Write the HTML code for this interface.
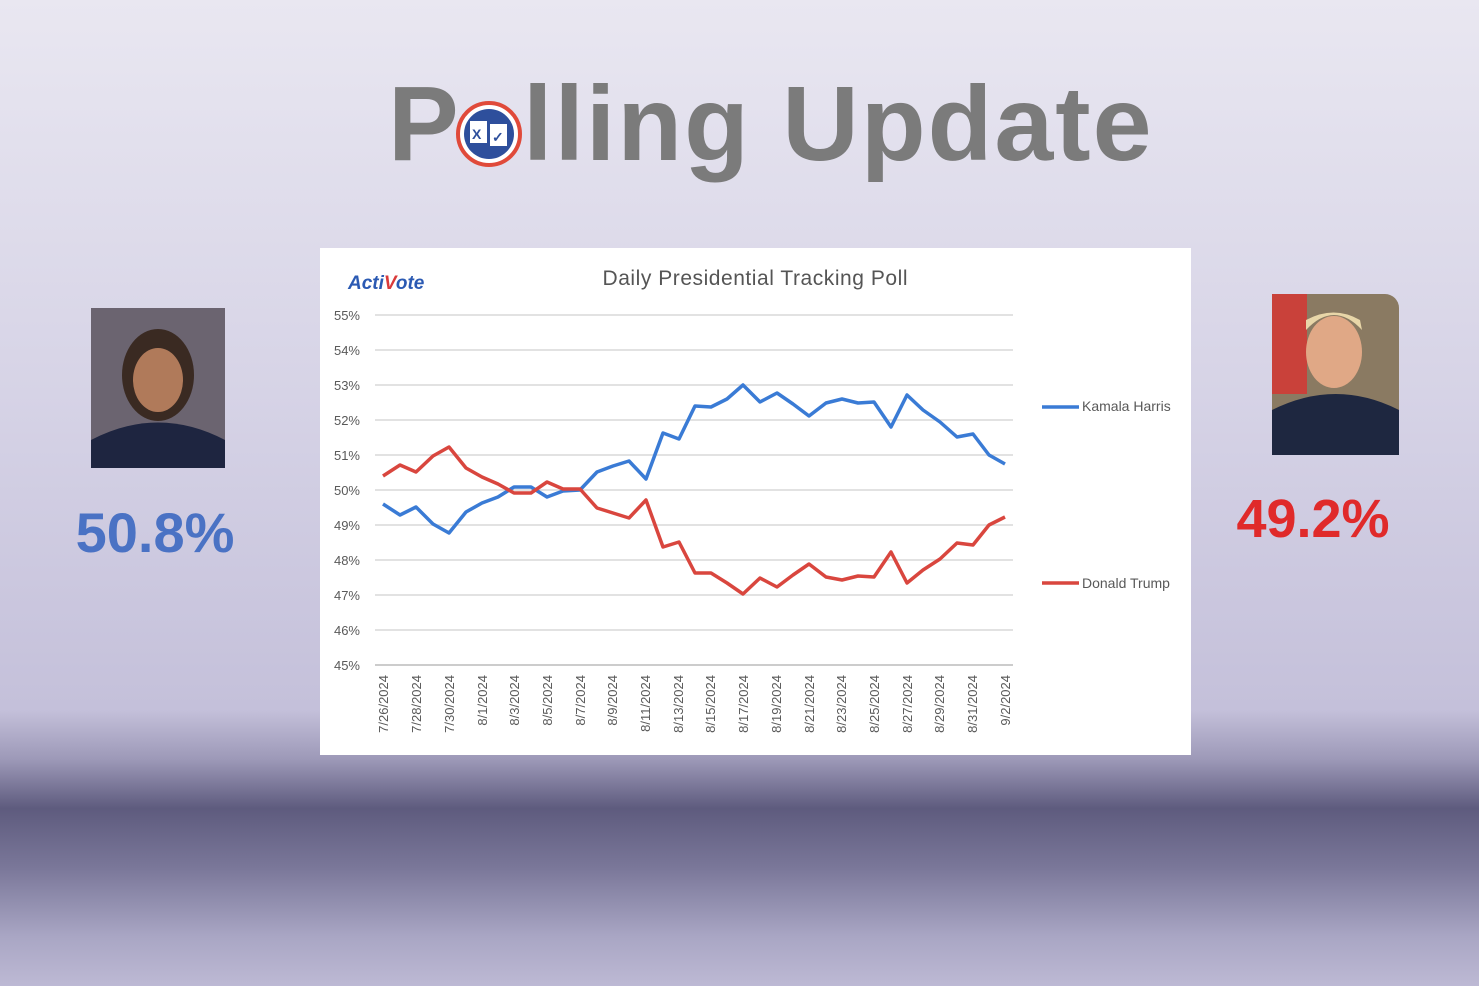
<!DOCTYPE html>
<html><head><meta charset="utf-8"><style>
html,body{margin:0;padding:0;}
body{width:1479px;height:986px;overflow:hidden;font-family:"Liberation Sans",sans-serif;
background:linear-gradient(to bottom,#e9e7f1 0%,#d6d3e6 40%,#c4c0da 72%,#9d99b8 77%,#5e5b7e 82%,#7a7799 88%,#a9a6c4 95%,#bdb9d4 100%);}
</style></head><body>
<svg width="1479" height="986" xmlns="http://www.w3.org/2000/svg" style="position:absolute;left:0;top:0">
<text x="388" y="160" font-family="Liberation Sans, sans-serif" font-weight="bold" font-size="106" fill="#7b7b7b">P</text>
<circle cx="489" cy="134" r="31" fill="#fff" stroke="#e04a3a" stroke-width="4"/>
<circle cx="489" cy="134" r="25" fill="#2e4f9c"/>
<rect x="470" y="121" width="17" height="22" fill="#fff"/><rect x="490" y="124" width="17" height="22" fill="#fff"/>
<text x="472" y="139" font-size="14" fill="#2e4f9c" font-weight="bold">X</text>
<text x="492" y="142" font-size="14" fill="#2e4f9c" font-weight="bold">✓</text>
<text x="523" y="160" font-family="Liberation Sans, sans-serif" font-weight="bold" font-size="106" fill="#7b7b7b" letter-spacing="2">lling Update</text>

<rect x="320" y="248" width="871" height="507" fill="#fff"/>
<text x="348" y="289" font-size="19" font-weight="bold" fill="#2b5ab3" font-style="italic">Acti<tspan fill="#d93a3a">V</tspan>ote</text>
<text x="755" y="285" font-size="21" fill="#555" text-anchor="middle" textLength="305">Daily Presidential Tracking Poll</text>
<g stroke="#d9d9d9" stroke-width="1.5">
<line x1="375" x2="1013" y1="315" y2="315"/><line x1="375" x2="1013" y1="350" y2="350"/><line x1="375" x2="1013" y1="385" y2="385"/><line x1="375" x2="1013" y1="420" y2="420"/><line x1="375" x2="1013" y1="455" y2="455"/><line x1="375" x2="1013" y1="490" y2="490"/><line x1="375" x2="1013" y1="525" y2="525"/><line x1="375" x2="1013" y1="560" y2="560"/><line x1="375" x2="1013" y1="595" y2="595"/><line x1="375" x2="1013" y1="630" y2="630"/><line x1="375" x2="1013" y1="665" y2="665" stroke="#bbb"/>
</g>
<g font-size="13" fill="#595959" text-anchor="end">
<text x="360" y="320">55%</text><text x="360" y="355">54%</text><text x="360" y="390">53%</text><text x="360" y="425">52%</text><text x="360" y="460">51%</text><text x="360" y="495">50%</text><text x="360" y="530">49%</text><text x="360" y="565">48%</text><text x="360" y="600">47%</text><text x="360" y="635">46%</text><text x="360" y="670">45%</text>
</g>
<g font-size="13" fill="#595959" text-anchor="end">
<text transform="translate(388,675) rotate(-90)">7/26/2024</text>
<text transform="translate(421,675) rotate(-90)">7/28/2024</text>
<text transform="translate(454,675) rotate(-90)">7/30/2024</text>
<text transform="translate(487,675) rotate(-90)">8/1/2024</text>
<text transform="translate(519,675) rotate(-90)">8/3/2024</text>
<text transform="translate(552,675) rotate(-90)">8/5/2024</text>
<text transform="translate(585,675) rotate(-90)">8/7/2024</text>
<text transform="translate(617,675) rotate(-90)">8/9/2024</text>
<text transform="translate(650,675) rotate(-90)">8/11/2024</text>
<text transform="translate(683,675) rotate(-90)">8/13/2024</text>
<text transform="translate(715,675) rotate(-90)">8/15/2024</text>
<text transform="translate(748,675) rotate(-90)">8/17/2024</text>
<text transform="translate(781,675) rotate(-90)">8/19/2024</text>
<text transform="translate(814,675) rotate(-90)">8/21/2024</text>
<text transform="translate(846,675) rotate(-90)">8/23/2024</text>
<text transform="translate(879,675) rotate(-90)">8/25/2024</text>
<text transform="translate(912,675) rotate(-90)">8/27/2024</text>
<text transform="translate(944,675) rotate(-90)">8/29/2024</text>
<text transform="translate(977,675) rotate(-90)">8/31/2024</text>
<text transform="translate(1010,675) rotate(-90)">9/2/2024</text>
</g>
<polyline fill="none" stroke="#3a7bd5" stroke-width="3.5" stroke-linejoin="round" points="383,504 400,515 416,507 433,524 449,533 466,512 482,503 498,497 514,487 531,487 547,497 563,491 580,490 597,472 613,466 629,461 646,479 663,433 679,439 695,406 711,407 727,399 743,385 760,402 777,393 793,404 809,416 826,403 842,399 858,403 874,402 891,427 907,395 923,410 940,422 957,437 973,434 989,455 1005,464"/>
<polyline fill="none" stroke="#d9463e" stroke-width="3.5" stroke-linejoin="round" points="383,476 400,465 416,472 433,456 449,447 466,468 482,477 498,484 514,493 531,493 547,482 563,489 580,489 597,508 613,513 629,518 646,500 663,547 679,542 695,573 711,573 727,583 743,594 760,578 777,587 793,575 809,564 826,577 842,580 858,576 874,577 891,552 907,583 923,570 940,559 957,543 973,545 989,525 1005,517"/>
<line x1="1042" x2="1079" y1="407" y2="407" stroke="#3a7bd5" stroke-width="3.5"/>
<text x="1082" y="411" font-size="14" fill="#595959">Kamala Harris</text>
<line x1="1042" x2="1079" y1="583" y2="583" stroke="#d9463e" stroke-width="3.5"/>
<text x="1082" y="588" font-size="14" fill="#595959">Donald Trump</text>

<rect x="91" y="308" width="134" height="160" fill="#6b6470"/>
<ellipse cx="158" cy="375" rx="36" ry="46" fill="#3a2a22"/>
<ellipse cx="158" cy="380" rx="25" ry="32" fill="#b07a5a"/>
<path d="M91 468 L91 440 Q158 405 225 440 L225 468 Z" fill="#1e2540"/>
<text x="155" y="552" font-size="56" font-weight="bold" fill="#4a72c4" text-anchor="middle">50.8%</text>

<rect x="1272" y="294" width="127" height="161" rx="14" fill="#8a7a62"/>
<rect x="1272" y="294" width="35" height="100" fill="#c9413a"/>
<ellipse cx="1334" cy="352" rx="28" ry="36" fill="#e0a886"/>
<path d="M1306 330 Q1334 300 1362 330 L1360 320 Q1334 305 1306 320 Z" fill="#e8d6a8"/>
<path d="M1272 455 L1272 410 Q1336 378 1399 410 L1399 455 Z" fill="#1e2740"/>
<text x="1313" y="537" font-size="54" font-weight="bold" fill="#e02a2a" text-anchor="middle">49.2%</text>
</svg>
</body></html>
